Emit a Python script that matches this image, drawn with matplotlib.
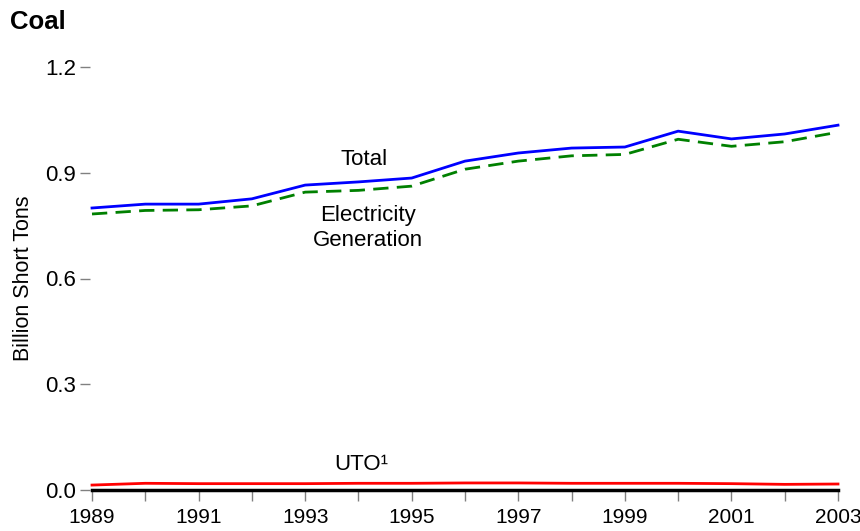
import matplotlib
matplotlib.use("Agg")
import matplotlib.pyplot as plt

plt.rcParams["font.family"] = ["Liberation Sans", "DejaVu Sans"]

years = list(range(1989, 2004))
total = [0.800, 0.811, 0.811, 0.826, 0.865, 0.874, 0.885, 0.933, 0.956,
         0.970, 0.973, 1.018, 0.996, 1.010, 1.035]
electricity = [0.783, 0.793, 0.795, 0.806, 0.845, 0.850, 0.862, 0.910, 0.933,
               0.948, 0.952, 0.995, 0.975, 0.988, 1.015]
uto = [0.014, 0.019, 0.018, 0.018, 0.018, 0.019, 0.019, 0.020, 0.020,
       0.019, 0.019, 0.019, 0.018, 0.016, 0.017]
zero_line = [0.0] * len(years)

fig = plt.figure(figsize=(8.6, 5.31), dpi=100)
ax = fig.add_axes([92 / 860, 41 / 531, 746 / 860, 423 / 531])

ax.plot(years, zero_line, color="black", linewidth=2.5, clip_on=False, zorder=3)
ax.plot(years, uto, color="red", linewidth=2, clip_on=False)
ax.plot(years, electricity, color="green", linewidth=2, linestyle=(0, (5.5, 3)), clip_on=False)
ax.plot(years, total, color="blue", linewidth=2, clip_on=False)

ax.set_xlim(1989, 2003)
ax.set_ylim(0, 1.2)
ax.set_xticks(years)
ax.set_xticklabels([str(y) if (y - 1989) % 2 == 0 else "" for y in years])
ax.set_yticks([0.0, 0.3, 0.6, 0.9, 1.2])
ax.set_yticklabels(["0.0", "0.3", "0.6", "0.9", "1.2"])

for s in ax.spines.values():
    s.set_visible(False)
# y ticks sit a little away from the plot edge
ax.spines["left"].set_position(("outward", 1.5))
ax.tick_params(axis="x", direction="out", length=8, width=1, color="gray",
               labelsize=15, pad=5)
ax.tick_params(axis="y", direction="out", length=7, width=1, color="gray",
               labelsize=16, pad=3)

ax.set_ylabel("Billion Short Tons", fontsize=15.5, labelpad=8)

ax.text(1994.1, 0.937, "Total", fontsize=16, ha="center", va="center")
ax.text(1994.18, 0.743, "Electricity\nGeneration", fontsize=16, ha="center",
        va="center", linespacing=1.25)
ax.text(1994.05, 0.071, "UTO\u00b9", fontsize=16, ha="center", va="center")

fig.text(10 / 860, 1 - 22 / 531, "Coal", fontsize=18.5, fontweight="bold",
         ha="left", va="center")

fig.savefig("out.png", dpi=100)
